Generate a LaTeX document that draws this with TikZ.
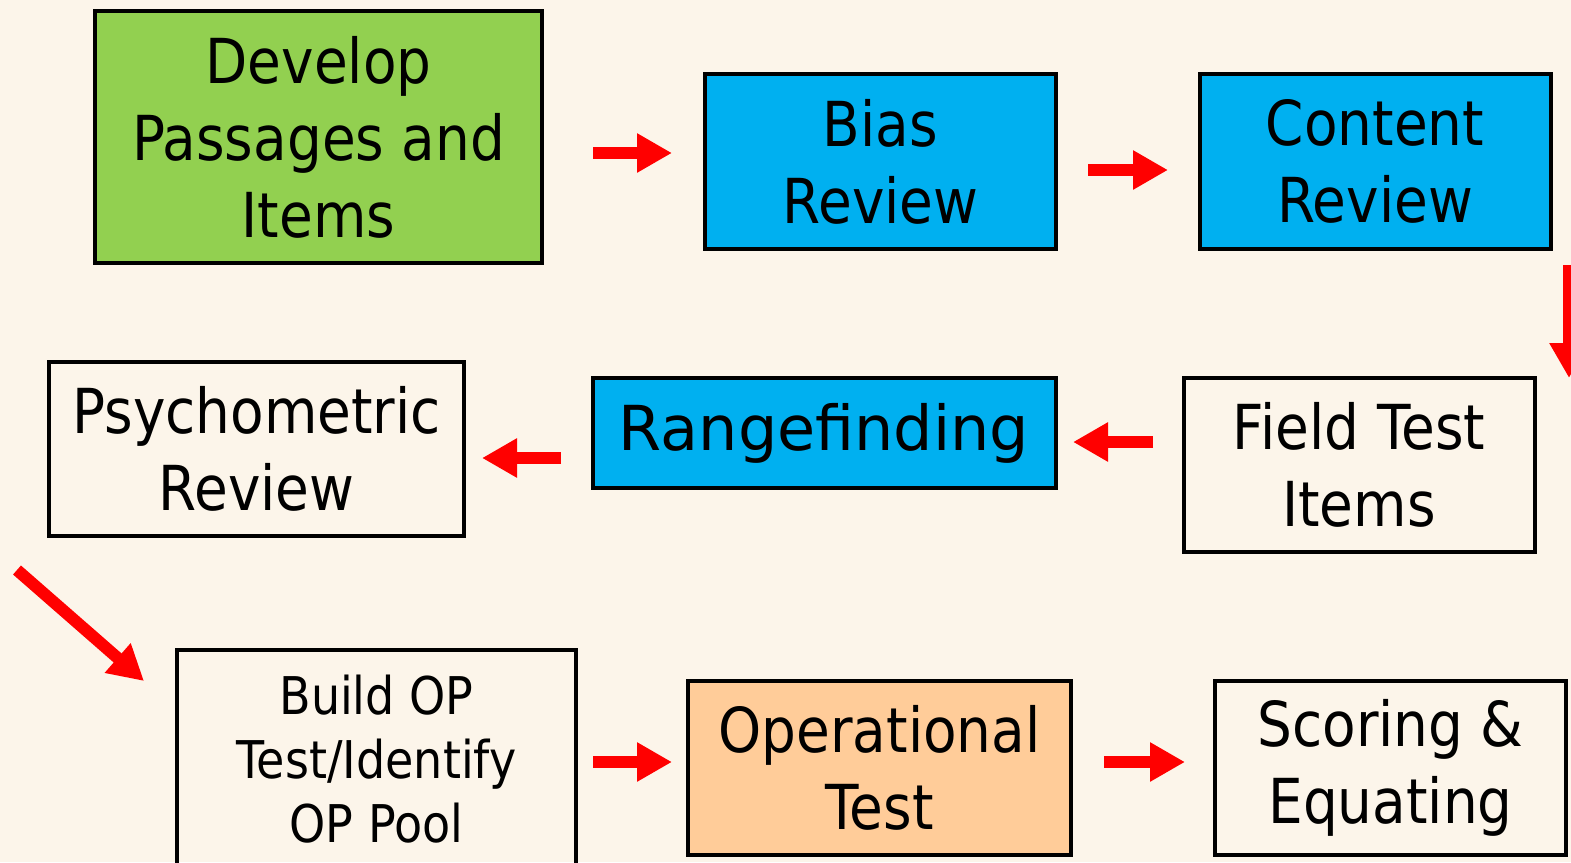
\documentclass[tikz,border=0pt]{standalone}
\usepackage{fontspec}
\setmainfont{DejaVu Sans}[FakeStretch=0.885]
\newfontfamily\widefont{DejaVu Sans}
\usetikzlibrary{arrows.meta}
\definecolor{bgcream}{HTML}{FCF5EA}
\definecolor{boxgreen}{HTML}{92D050}
\definecolor{boxblue}{HTML}{00B0F0}
\definecolor{boxpeach}{HTML}{FFCC99}
\definecolor{arrred}{HTML}{FF0000}
\tikzset{
  stepbox/.style={draw=black, line width=4pt, rectangle, align=center, inner sep=0pt,
    font=\fontsize{62}{77}\selectfont},
  smallbox/.style={stepbox, font=\fontsize{52}{64}\selectfont},
  flowarrow/.style={draw=arrred, line width=12pt,
    -{Triangle[width=37pt,length=35pt]}, arrred},
}
\begin{document}
\begin{tikzpicture}[x=1pt,y=-1pt]
\fill[bgcream] (0,0) rectangle (1571,862);
\useasboundingbox (0,0) rectangle (1571,862);

\node[stepbox, fill=boxgreen, minimum width=447pt, minimum height=252pt] (dev) at (318.5,137) {Develop\\Passages and\\Items};
\node[stepbox, fill=boxblue, minimum width=351pt, minimum height=175pt] (bias) at (880.5,161.5) {Bias\\Review};
\node[stepbox, fill=boxblue, minimum width=351pt, minimum height=175pt] (content) at (1375,161.5) {Content\\Review};
\node[stepbox, minimum width=415pt, minimum height=174pt] (psy) at (256.5,449) {Psychometric\\Review};
\node[stepbox, fill=boxblue, minimum width=463pt, minimum height=110pt, font=\widefont\fontsize{62}{77}\selectfont] (range) at (824,433) {Rangefinding};
\node[stepbox, minimum width=351pt, minimum height=174pt] (field) at (1359,465) {Field Test\\Items};
\node[smallbox, minimum width=399pt, minimum height=218pt] (build) at (376.5,759) {Build OP\\Test/Identify\\OP Pool};
\node[stepbox, fill=boxpeach, minimum width=383pt, minimum height=174pt] (oper) at (879.5,768) {Operational\\Test};
\node[stepbox, minimum width=351pt, minimum height=174pt] (score) at (1390.5,768) {Scoring \&\\Equating};

\coordinate (a1s) at (593,153);  \coordinate (a1e) at (672,153);
\coordinate (a2s) at (1088,170); \coordinate (a2e) at (1168,170);
\coordinate (a3s) at (1569,265); \coordinate (a3e) at (1569,378);
\coordinate (a4s) at (1153,442); \coordinate (a4e) at (1073,442);
\coordinate (a5s) at (561,458);  \coordinate (a5e) at (482,458);
\coordinate (a6s) at (17,570);   \coordinate (a6e) at (144,681);
\coordinate (a7s) at (593,762);  \coordinate (a7e) at (672,762);
\coordinate (a8s) at (1104,762); \coordinate (a8e) at (1185,762);

\draw[flowarrow] (a1s) -- (a1e);
\draw[flowarrow] (a2s) -- (a2e);
\draw[flowarrow] (a3s) -- (a3e);
\draw[flowarrow] (a4s) -- (a4e);
\draw[flowarrow] (a5s) -- (a5e);
\draw[flowarrow] (a6s) -- (a6e);
\draw[flowarrow] (a7s) -- (a7e);
\draw[flowarrow] (a8s) -- (a8e);
\end{tikzpicture}
\end{document}
